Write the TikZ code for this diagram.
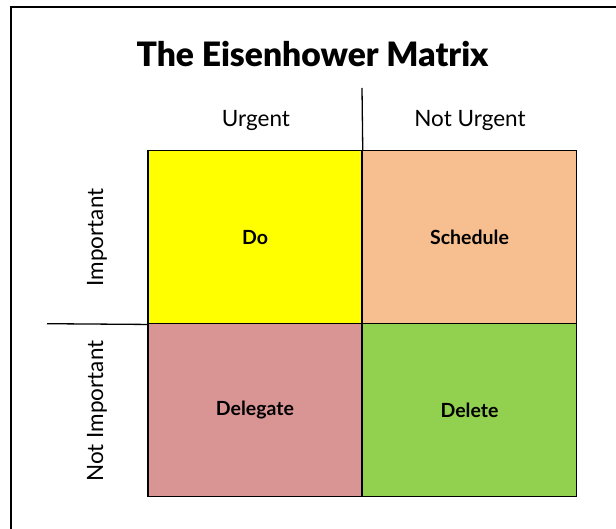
\documentclass[tikz,border=0pt]{standalone}
\usepackage{fontspec}
\setmainfont{Lato}
\newfontfamily\titlefont{Lato Black}
\definecolor{qdo}{HTML}{FFFF00}
\definecolor{qsched}{HTML}{F7BF8F}
\definecolor{qdeleg}{HTML}{D99594}
\definecolor{qdel}{HTML}{92D050}
\begin{document}
\begin{tikzpicture}[x=1pt,y=-1pt,
  cell/.style={draw=black, line width=1.5pt, minimum width=214pt, minimum height=173pt,
    inner sep=0pt, font=\fontsize{19.5}{22}\selectfont\bfseries},
  axislabel/.style={font=\fontsize{22.5}{26}\selectfont, inner sep=0pt},
  divider/.style={draw=black, line width=1.3pt}]
\useasboundingbox (0,0) rectangle (616,529);
\clip (0,0) rectangle (616,529);
% outer frame
\draw[line width=2pt] (10.5,540) -- (10.5,7.5) -- (630,7.5);
% title
\node[font=\fontsize{33.6}{38}\selectfont\titlefont, inner sep=0pt] (title) at (312.5,54) {The Eisenhower Matrix};
% quadrants
\node[cell, fill=qdo]    (do)    at (255,237.2)   {Do};
\node[cell, fill=qsched] (sched) at (469.5,237.2) {Schedule};
\node[cell, fill=qdeleg] (deleg) at (255,410.2)   {Delegate};
\node[cell, fill=qdel]   (del)   at (469.5,410.2) {Delete};
% axis dividers
\coordinate (vtop) at (362,88);
\coordinate (hleft) at (47,323.7);
\draw[divider] (do.north east) -- (vtop);
\draw[divider] (do.south west) -- (hleft);
% column and row labels
\node[axislabel] (urg)  at (256,120) {Urgent};
\node[axislabel] (nurg) at (470,120) {Not Urgent};
\node[axislabel, rotate=90] (imp)  at (97,237.5) {Important};
\node[axislabel, rotate=90] (nimp) at (97,411) {Not Important};
\end{tikzpicture}
\end{document}
